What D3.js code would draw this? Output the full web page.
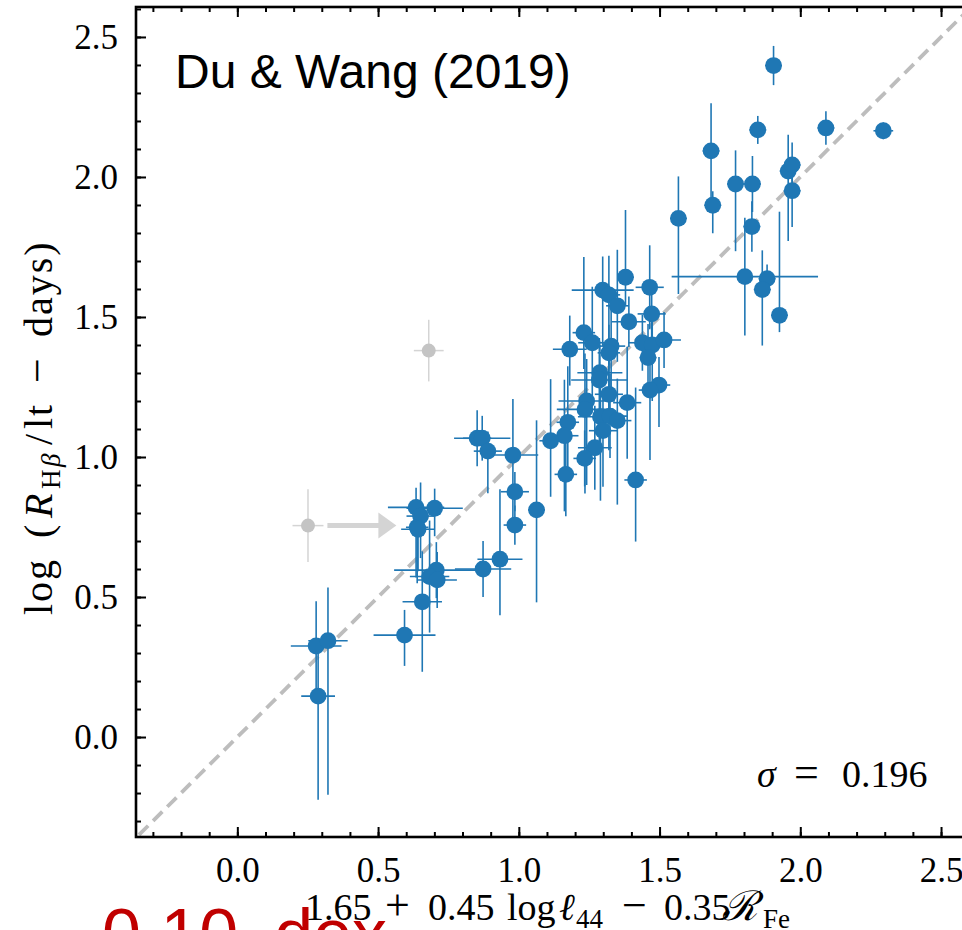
<!DOCTYPE html>
<html>
<head>
<meta charset="utf-8">
<script src="https://cdn.jsdelivr.net/npm/d3@7"></script>
<style>
body { margin: 0; background: #fff; }
svg text { font-family: "Liberation Serif", "Times New Roman", serif; fill: #000; }
</style>
</head>
<body>
<script>
// points: x, y, x error, y error (lower / upper)
var xVals = [1.905, 1.849, 2.091, 2.295, 1.683, 1.689, 1.770, 1.830, 1.828, 1.957, 1.971, 1.971, 1.567, 1.803, 1.882, 1.865, 1.926,
  1.379, 1.465, 1.298, 1.320, 1.350, 1.472, 1.391, 1.231, 1.261, 1.181, 1.328, 1.320, 1.439, 1.474, 1.516, 1.459, 1.288, 1.286,
  1.498, 1.466, 1.320, 1.241, 1.385, 1.235, 1.290, 1.324, 1.350, 1.174, 1.299, 1.162, 1.113, 1.270, 1.234, 1.167, 1.415,
  0.852, 0.870, 0.890, 0.979, 0.986, 1.063, 0.986, 0.635, 0.701, 0.651, 0.639, 0.642, 0.933, 0.873, 0.707, 0.683, 0.710,
  0.657, 0.594, 0.280, 0.322, 0.287];
var yVals = [2.398, 2.168, 2.175, 2.165, 2.093, 1.899, 1.975, 1.975, 1.823, 2.021, 2.043, 1.951, 1.852, 1.644, 1.637, 1.598, 1.506,
  1.642, 1.606, 1.596, 1.579, 1.540, 1.511, 1.483, 1.444, 1.408, 1.385, 1.396, 1.372, 1.408, 1.400, 1.418, 1.355, 1.301, 1.275,
  1.257, 1.239, 1.224, 1.200, 1.194, 1.170, 1.144, 1.146, 1.130, 1.124, 1.094, 1.076, 1.058, 1.033, 0.995, 0.938, 0.918,
  1.067, 1.067, 1.021, 1.007, 0.876, 0.811, 0.757, 0.820, 0.817, 0.789, 0.749, 0.742, 0.635, 0.600, 0.596, 0.573, 0.561,
  0.483, 0.364, 0.325, 0.344, 0.146];
var xErr = [0.03, 0.03, 0.03, 0.035, 0.03, 0.03, 0.03, 0.03, 0.03, 0.03, 0.03, 0.03, 0.03, 0.26, 0.03, 0.03, 0.03,
  0.03, 0.05, 0.11, 0.04, 0.04, 0.05, 0.06, 0.04, 0.05, 0.06, 0.05, 0.04, 0.05, 0.04, 0.06, 0.03, 0.08, 0.10,
  0.04, 0.04, 0.05, 0.10, 0.05, 0.10, 0.08, 0.06, 0.05, 0.04, 0.05, 0.05, 0.04, 0.06, 0.04, 0.04, 0.04,
  0.05, 0.10, 0.05, 0.09, 0.05, 0.03, 0.04, 0.10, 0.10, 0.05, 0.04, 0.06, 0.08, 0.10, 0.15, 0.07, 0.07,
  0.07, 0.11, 0.09, 0.07, 0.06];
var yErrLo = [0.07, 0.05, 0.06, 0.03, 0.17, 0.10, 0.24, 0.10, 0.09, 0.25, 0.09, 0.13, 0.27, 0.21, 0.05, 0.20, 0.06,
  0.10, 0.15, 0.20, 0.25, 0.20, 0.12, 0.09, 0.13, 0.20, 0.13, 0.20, 0.25, 0.10, 0.20, 0.10, 0.12, 0.10, 0.25,
  0.15, 0.25, 0.20, 0.30, 0.20, 0.30, 0.30, 0.15, 0.30, 0.20, 0.20, 0.27, 0.20, 0.15, 0.10, 0.15, 0.22,
  0.10, 0.08, 0.15, 0.27, 0.07, 0.33, 0.07, 0.25, 0.10, 0.15, 0.20, 0.15, 0.20, 0.10, 0.10, 0.20, 0.10,
  0.25, 0.11, 0.16, 0.55, 0.37];
var yErrHi = [0.07, 0.05, 0.06, 0.03, 0.17, 0.05, 0.12, 0.10, 0.09, 0.13, 0.08, 0.10, 0.15, 0.21, 0.05, 0.14, 0.37,
  0.24, 0.15, 0.12, 0.14, 0.20, 0.12, 0.09, 0.27, 0.20, 0.12, 0.20, 0.10, 0.10, 0.10, 0.10, 0.12, 0.10, 0.15,
  0.10, 0.12, 0.20, 0.15, 0.20, 0.20, 0.15, 0.15, 0.15, 0.20, 0.15, 0.20, 0.22, 0.15, 0.10, 0.12, 0.33,
  0.10, 0.08, 0.07, 0.20, 0.07, 0.32, 0.07, 0.07, 0.07, 0.12, 0.10, 0.08, 0.25, 0.10, 0.10, 0.20, 0.10,
  0.18, 0.09, 0.16, 0.19, 0.18];

// grey (excluded) objects
var greyX = [0.251, 0.680];
var greyY = [0.755, 1.380];
var greyXErr = [0.055, 0.053];
var greyYErr = [0.13, 0.11];
var arrowX = [0.32, 0.565];   // shift of the first grey object
var arrowY = 0.755;

var majorTicks = [0, 0.5, 1, 1.5, 2, 2.5];
var tickLabels = ["0.0", "0.5", "1.0", "1.5", "2.0", "2.5"];
var minorTicks = d3.range(-3, 27).map(function(i){ return i / 10; });
var lim = [-0.36, 2.61];

var W = 962, H = 930;
var pL = 136, pR = 972, pT = 7, pB = 837;

var svg = d3.select('body').append('svg').attr('width', W).attr('height', H);

var x = d3.scaleLinear().domain(lim).range([pL, pR]);
var y = d3.scaleLinear().domain([-0.357, 2.607]).range([pB, pT]);

svg.append('clipPath').attr('id', 'plotclip')
  .append('rect').attr('x', pL).attr('y', pT).attr('width', pR - pL).attr('height', pB - pT);

var plot = svg.append('g').attr('clip-path', 'url(#plotclip)');

// one-to-one line
plot.append('line')
  .attr('x1', x(-0.4)).attr('y1', y(-0.4))
  .attr('x2', x(2.7)).attr('y2', y(2.7))
  .attr('stroke', '#bdbdbd').attr('stroke-width', 3.8)
  .attr('stroke-dasharray', '13,7');

// grey points
var greyCol = '#d4d4d4';
greyX.forEach(function(gx, i){
  plot.append('line').attr('x1', x(gx - greyXErr[i])).attr('x2', x(gx + greyXErr[i]))
    .attr('y1', y(greyY[i])).attr('y2', y(greyY[i])).attr('stroke', greyCol).attr('stroke-width', 1.5);
  plot.append('line').attr('x1', x(gx)).attr('x2', x(gx))
    .attr('y1', y(greyY[i] - greyYErr[i])).attr('y2', y(greyY[i] + greyYErr[i])).attr('stroke', greyCol).attr('stroke-width', 1.5);
  plot.append('circle').attr('cx', x(gx)).attr('cy', y(greyY[i])).attr('r', 7).attr('fill', '#c4c4c4');
});

// arrow
plot.append('line')
  .attr('x1', x(arrowX[0])).attr('x2', x(arrowX[1]) - 16)
  .attr('y1', y(arrowY)).attr('y2', y(arrowY))
  .attr('stroke', greyCol).attr('stroke-width', 5);
plot.append('path')
  .attr('d', 'M' + (x(arrowX[1]) - 18) + ',' + (y(arrowY) - 13) + 'L' + x(arrowX[1]) + ',' + y(arrowY) +
             'L' + (x(arrowX[1]) - 18) + ',' + (y(arrowY) + 13) + 'Z')
  .attr('fill', greyCol);

// error bars
var blue = '#1f77b4';
var pts = xVals.map(function(v, i){
  return {x: v, y: yVals[i], xe: xErr[i], lo: yErrLo[i], hi: yErrHi[i]};
});

plot.selectAll('line.ex').data(pts).enter().append('line').attr('class', 'ex')
  .attr('x1', function(d){ return x(d.x - d.xe); })
  .attr('x2', function(d){ return x(d.x + d.xe); })
  .attr('y1', function(d){ return y(d.y); })
  .attr('y2', function(d){ return y(d.y); })
  .attr('stroke', blue).attr('stroke-width', 1.6);

plot.selectAll('line.ey').data(pts).enter().append('line').attr('class', 'ey')
  .attr('x1', function(d){ return x(d.x); })
  .attr('x2', function(d){ return x(d.x); })
  .attr('y1', function(d){ return y(d.y - d.lo); })
  .attr('y2', function(d){ return y(d.y + d.hi); })
  .attr('stroke', blue).attr('stroke-width', 1.6);

plot.selectAll('circle.pt').data(pts).enter().append('circle').attr('class', 'pt')
  .attr('cx', function(d){ return x(d.x); })
  .attr('cy', function(d){ return y(d.y); })
  .attr('r', 8.4)
  .attr('fill', blue);

// axes, ticks pointing in on all four sides
function styleAxis(g){
  g.select('.domain').remove();
  g.selectAll('.tick line').attr('stroke', '#000').attr('stroke-width', 2);
}
var fmt = function(d){ return tickLabels[majorTicks.indexOf(d)]; };

svg.append('g').attr('transform', 'translate(0,' + pB + ')')
  .call(d3.axisBottom(x).tickValues(minorTicks).tickSize(-5).tickFormat('')).call(styleAxis);
svg.append('g').attr('transform', 'translate(0,' + pT + ')')
  .call(d3.axisTop(x).tickValues(minorTicks).tickSize(-5).tickFormat('')).call(styleAxis);
svg.append('g').attr('transform', 'translate(' + pL + ',0)')
  .call(d3.axisLeft(y).tickValues(minorTicks).tickSize(-5).tickFormat('')).call(styleAxis);
svg.append('g').attr('transform', 'translate(' + pR + ',0)')
  .call(d3.axisRight(y).tickValues(minorTicks).tickSize(-5).tickFormat('')).call(styleAxis);

svg.append('g').attr('transform', 'translate(0,' + pB + ')')
  .call(d3.axisBottom(x).tickValues(majorTicks).tickSize(-10).tickPadding(20).tickFormat(fmt)).call(styleAxis);
svg.append('g').attr('transform', 'translate(0,' + pT + ')')
  .call(d3.axisTop(x).tickValues(majorTicks).tickSize(-10).tickFormat('')).call(styleAxis);
svg.append('g').attr('transform', 'translate(' + pL + ',0)')
  .call(d3.axisLeft(y).tickValues(majorTicks).tickSize(-10).tickPadding(18).tickFormat(fmt)).call(styleAxis);
svg.append('g').attr('transform', 'translate(' + pR + ',0)')
  .call(d3.axisRight(y).tickValues(majorTicks).tickSize(-10).tickFormat('')).call(styleAxis);

svg.selectAll('.tick text').style('font-family', '"Liberation Serif", serif').style('font-size', '35px').attr('fill', '#000');

// frame
svg.append('rect').attr('x', pL).attr('y', pT).attr('width', pR - pL).attr('height', pB - pT)
  .attr('fill', 'none').attr('stroke', '#000').attr('stroke-width', 2.6);

// x label, pieces placed like the typeset maths
var xt = svg.append('text').attr('y', 920).style('font-size', '38px');
xt.append('tspan').attr('x', 305).text('1.65');
xt.append('tspan').attr('x', 385).style('font-size', '44px').text('+');
xt.append('tspan').attr('x', 428).text('0.45');
xt.append('tspan').attr('x', 507).text('log');
xt.append('tspan').attr('x', 559).style('font-style', 'italic').text('\u2113');
xt.append('tspan').attr('x', 576).attr('dy', 8).style('font-size', '27px').text('44');
xt.append('tspan').attr('x', 622).attr('dy', -8).style('font-size', '44px').text('\u2212');
xt.append('tspan').attr('x', 664).text('0.35');
xt.append('tspan').attr('x', 722).style('font-style', 'italic').style('font-family', '"DejaVu Serif", serif')
  .style('font-size', '41px').text('\u211B');
xt.append('tspan').attr('x', 763).attr('dy', 8).style('font-size', '27px').text('Fe');

// y label
var yt = svg.append('text').attr('transform', 'translate(52,615) rotate(-90)')
  .style('font-size', '40px').style('letter-spacing', '2px');
yt.append('tspan').attr('x', 0).text('log');
yt.append('tspan').attr('x', 77).text('(');
yt.append('tspan').attr('x', 97).style('font-style', 'italic').text('R');
yt.append('tspan').attr('x', 126).attr('dy', 8).style('font-size', '27px').text('H');
yt.append('tspan').attr('x', 148).style('font-size', '27px').style('font-style', 'italic').text('\u03B2');
yt.append('tspan').attr('x', 170).attr('dy', -8).text('/');
yt.append('tspan').attr('x', 186).text('lt');
yt.append('tspan').attr('x', 232).style('font-size', '44px').text('\u2212');
yt.append('tspan').attr('x', 278).text('days)');

// sigma
var st = svg.append('text').attr('y', 787).style('font-size', '38px');
st.append('tspan').attr('x', 757).style('font-style', 'italic').text('\u03C3');
st.append('tspan').attr('x', 794).style('font-size', '44px').text('=');
st.append('tspan').attr('x', 842).text('0.196');

// panel title
svg.append('text').attr('x', 175).attr('y', 88)
  .style('font-family', '"Liberation Sans", Arial, sans-serif').style('font-size', '48px')
  .text('Du & Wang (2019)');

// red annotation, cut by the bottom edge
var rt = svg.append('text').attr('x', 102).attr('y', 958)
  .style('font-family', '"Liberation Sans", Arial, sans-serif').style('font-size', '70px')
  .style('fill', '#c00000');
rt.append('tspan').text('0.10');
rt.append('tspan').attr('dx', 36).text('dex');
</script>
</body>
</html>
